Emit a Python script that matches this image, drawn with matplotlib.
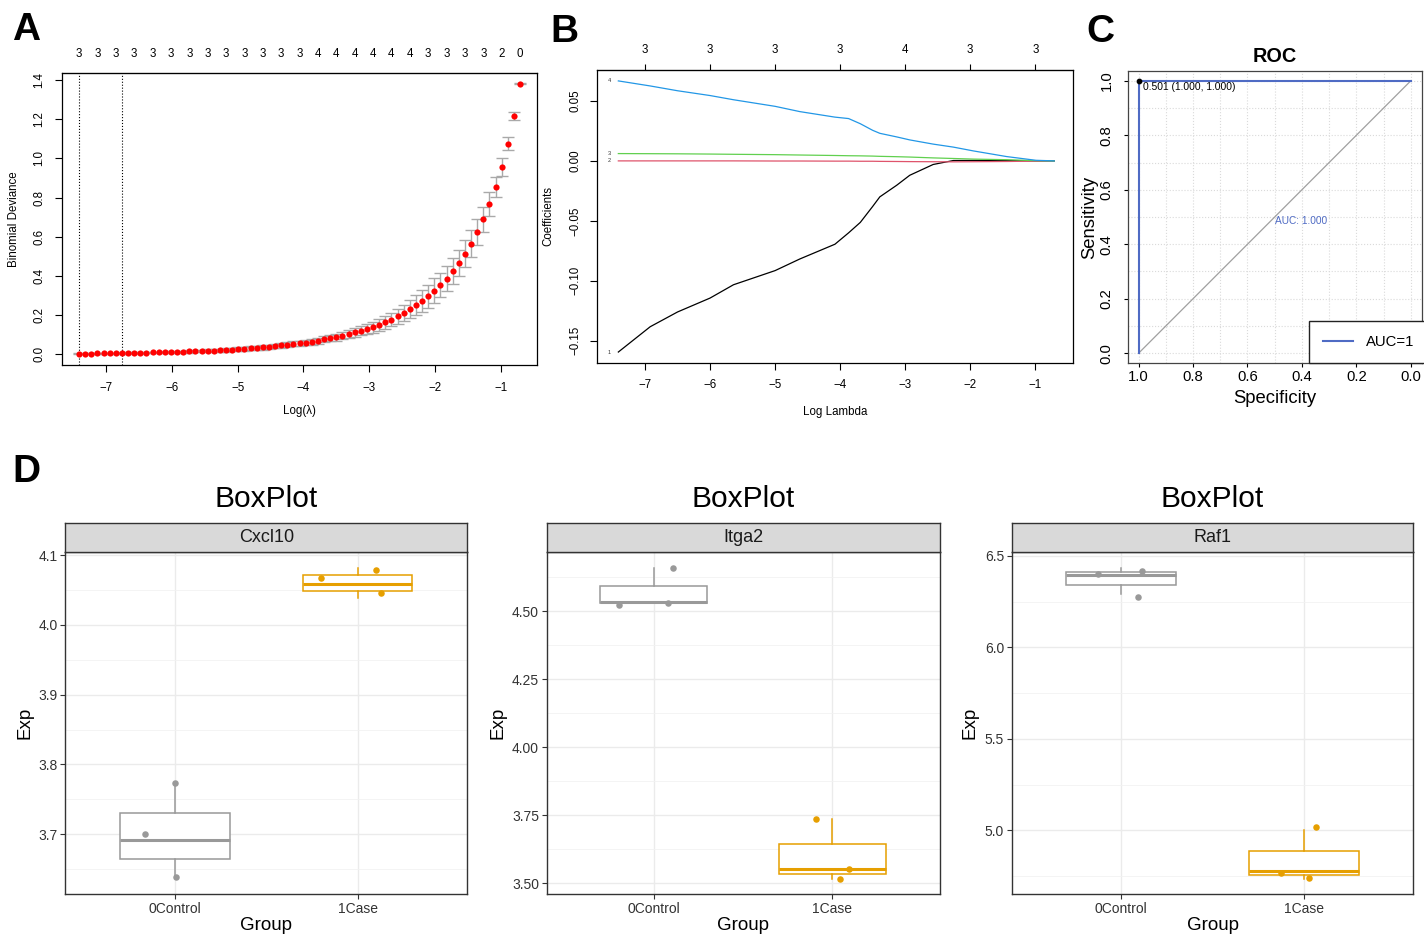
import numpy as np
import matplotlib.pyplot as plt
from matplotlib.lines import Line2D

plt.rcParams['font.family'] = ['Liberation Sans', 'DejaVu Sans']

# ---- A: cross-validated deviance ----
log_lambda = [-7.410, -7.317, -7.224, -7.131, -7.038, -6.945, -6.851, -6.758, -6.665, -6.572,
              -6.479, -6.386, -6.293, -6.200, -6.107, -6.014, -5.921, -5.827, -5.734, -5.641,
              -5.548, -5.455, -5.362, -5.269, -5.176, -5.083, -4.990, -4.897, -4.803, -4.710,
              -4.617, -4.524, -4.431, -4.338, -4.245, -4.152, -4.059, -3.966, -3.873, -3.779,
              -3.686, -3.593, -3.500, -3.407, -3.314, -3.221, -3.128, -3.035, -2.942, -2.849,
              -2.755, -2.662, -2.569, -2.476, -2.383, -2.290, -2.197, -2.104, -2.011, -1.918,
              -1.825, -1.731, -1.638, -1.545, -1.452, -1.359, -1.266, -1.173, -1.080, -0.987,
              -0.894, -0.801, -0.708]
deviance = [0.003, 0.004, 0.004, 0.005, 0.005, 0.006, 0.006, 0.007, 0.007, 0.008,
            0.008, 0.009, 0.010, 0.010, 0.011, 0.012, 0.013, 0.014, 0.015, 0.016,
            0.017, 0.018, 0.019, 0.021, 0.022, 0.024, 0.026, 0.028, 0.030, 0.032,
            0.035, 0.038, 0.042, 0.046, 0.049, 0.053, 0.056, 0.059, 0.064, 0.069,
            0.077, 0.083, 0.088, 0.095, 0.104, 0.112, 0.120, 0.129, 0.139, 0.150,
            0.163, 0.177, 0.194, 0.211, 0.230, 0.250, 0.274, 0.296, 0.325, 0.354,
            0.386, 0.424, 0.466, 0.512, 0.565, 0.623, 0.689, 0.767, 0.854, 0.956,
            1.075, 1.215, 1.380]
deviance_se = [0.002, 0.002, 0.002, 0.002, 0.002, 0.003, 0.003, 0.003, 0.003, 0.003,
               0.004, 0.004, 0.004, 0.004, 0.005, 0.005, 0.005, 0.005, 0.006, 0.006,
               0.006, 0.007, 0.007, 0.007, 0.008, 0.008, 0.009, 0.009, 0.010, 0.010,
               0.011, 0.011, 0.012, 0.012, 0.013, 0.013, 0.014, 0.014, 0.014, 0.015,
               0.015, 0.017, 0.018, 0.019, 0.021, 0.022, 0.024, 0.026, 0.028, 0.031,
               0.033, 0.035, 0.037, 0.041, 0.046, 0.051, 0.056, 0.060, 0.063, 0.063,
               0.064, 0.065, 0.068, 0.069, 0.068, 0.065, 0.063, 0.060, 0.051, 0.044,
               0.035, 0.020, 0.003]
n_nonzero_cv = ['3'] * 13 + ['4'] * 6 + ['3'] * 4 + ['2', '0']
lambda_min = -7.410
lambda_1se = -6.758

# ---- B: coefficient paths ----
path_x = [-7.41, -6.92, -6.5, -6.0, -5.64, -5.0, -4.62, -4.08, -3.87, -3.69,
          -3.5, -3.39, -3.13, -2.93, -2.57, -2.26, -1.95, -1.44, -0.99, -0.708]
coef_1 = [-0.1594, -0.1383, -0.1260, -0.1144, -0.1033, -0.0915, -0.0818, -0.0695, -0.0600, -0.0513,
          -0.0380, -0.0300, -0.0203, -0.0120, -0.0030, 0.0003, 0.0004, 0.0003, 0.0, 0.0]
coef_2 = [0.0, 0.0, 0.0, 0.0, 0.0, -0.0001, -0.0001, -0.0002, -0.0002, -0.0003,
          -0.0003, -0.0004, -0.0005, -0.0006, -0.0007, -0.0008, -0.0007, -0.0005, -0.0002, 0.0]
coef_3 = [0.0061, 0.0060, 0.0059, 0.0057, 0.0055, 0.0052, 0.0049, 0.0045, 0.0043, 0.0042,
          0.0040, 0.0038, 0.0035, 0.0032, 0.0025, 0.0020, 0.0015, 0.0010, 0.0002, 0.0]
coef_4 = [0.0667, 0.0625, 0.0585, 0.0545, 0.0510, 0.0455, 0.0411, 0.0365, 0.0353, 0.0310,
          0.0255, 0.0230, 0.0200, 0.0175, 0.0140, 0.0115, 0.0083, 0.0036, 0.0005, 0.0]
top_df_x = [-7, -6, -5, -4, -3, -2, -1]
top_df = ['3', '3', '3', '3', '4', '3', '3']

# ---- C: ROC ----
roc_spec = [1.0, 1.0, 0.0]
roc_sens = [0.0, 1.0, 1.0]
diag_spec = [1.0, 0.0]
diag_sens = [0.0, 1.0]
best_spec, best_sens = 1.0, 1.0

# ---- D: box plots ----
genes = ['Cxcl10', 'Itga2', 'Raf1']
groups = ['0Control', '1Case']
# (whislo, q1, med, q3, whishi) per group
box_stats = {
    'Cxcl10': [(3.639, 3.664, 3.692, 3.731, 3.774), (4.039, 4.048, 4.059, 4.071, 4.081)],
    'Itga2': [(4.528, 4.528, 4.532, 4.593, 4.657), (3.515, 3.535, 3.554, 3.645, 3.737)],
    'Raf1': [(6.292, 6.341, 6.394, 6.413, 6.433), (4.732, 4.756, 4.778, 4.888, 5.002)],
}
pts_x = {
    'Cxcl10': [[0.835, 1.002, 1.004], [1.801, 2.100, 2.128]],
    'Itga2': [[0.804, 1.106, 1.078], [1.907, 2.095, 2.042]],
    'Raf1': [[0.873, 1.112, 1.094], [2.067, 1.876, 2.030]],
}
pts_y = {
    'Cxcl10': [[3.700, 3.774, 3.639], [4.067, 4.079, 4.045]],
    'Itga2': [[4.521, 4.657, 4.530], [3.736, 3.554, 3.515]],
    'Raf1': [[6.400, 6.420, 6.278], [5.020, 4.765, 4.741]],
}
y_ticks = {
    'Cxcl10': [3.7, 3.8, 3.9, 4.0, 4.1],
    'Itga2': [3.50, 3.75, 4.00, 4.25, 4.50],
    'Raf1': [5.0, 5.5, 6.0, 6.5],
}
y_fmt = {'Cxcl10': '{:.1f}', 'Itga2': '{:.2f}', 'Raf1': '{:.1f}'}
y_lims = {'Cxcl10': (3.614, 4.104), 'Itga2': (3.4596, 4.7156), 'Raf1': (4.650, 6.520)}
group_colors = ['#999999', '#E69F00']

W, H = 1424, 936
fig = plt.figure(figsize=(W / 100, H / 100), dpi=100)


def add_px(x0, y0, x1, y1):
    return fig.add_axes([x0 / W, 1 - y1 / H, (x1 - x0) / W, (y1 - y0) / H])


def ftext(x, y, s, **kw):
    fig.text(x / W, 1 - y / H, s, **kw)


def r_style(ax, size, ylen=5, pad=7):
    ax.tick_params(direction='out', length=ylen, width=0.8, labelsize=size, pad=pad)
    for lab in ax.get_yticklabels():
        lab.set_rotation(90)
        lab.set_va('center')
    for sp in ax.spines.values():
        sp.set_linewidth(0.9)


def place_labels(ax, xl, yl, xy, yx, size, **kw):
    ax.set_xlabel(xl, fontsize=size, **kw)
    ax.set_ylabel(yl, fontsize=size, **kw)
    ax.xaxis.label.set_va('center')
    ax.yaxis.label.set_va('center')
    ax.xaxis.set_label_coords(0.5, xy)
    ax.yaxis.set_label_coords(yx, 0.5)


# ---------------- A ----------------
axA = add_px(62, 72.7, 537.3, 365)
axA.errorbar(log_lambda, deviance, yerr=deviance_se, fmt='none', ecolor='#A9A9A9',
             elinewidth=1, capsize=4, capthick=1, zorder=2)
axA.scatter(log_lambda, deviance, s=20, color='#FF0000', linewidths=0, zorder=3)
axA.axvline(lambda_min, ls=':', color='black', lw=0.8)
axA.axvline(lambda_1se, ls=':', color='black', lw=0.8)
axA.set_xlim(-7.669, -0.445)
axA.set_ylim(-0.0546, 1.437)
axA.set_xticks([-7, -6, -5, -4, -3, -2, -1])
axA.set_yticks([0, 0.2, 0.4, 0.6, 0.8, 1.0, 1.2, 1.4])
axA.set_yticklabels(['0.0', '0.2', '0.4', '0.6', '0.8', '1.0', '1.2', '1.4'])
r_style(axA, 8.3)
place_labels(axA, 'Log(\u03bb)', 'Binomial Deviance', -0.157, -0.101, 8.3)
secA = axA.secondary_xaxis('top')
secA.set_xticks(log_lambda[::3], n_nonzero_cv)
secA.tick_params(length=0, pad=9.5, labelsize=8.3)

# ---------------- B ----------------
axB = add_px(597, 70, 1073, 362.7)
path_colors = ['black', '#DF536B', '#61D04F', '#2297E6']
for c, col in zip([coef_1, coef_2, coef_3, coef_4], path_colors):
    axB.plot(path_x, c, color=col, lw=0.9)
for i, c in enumerate([coef_1, coef_2, coef_3, coef_4]):
    axB.text(-7.55, c[0], str(i + 1), fontsize=4, color='#333333', va='center', ha='center')
axB.set_xlim(-7.738, -0.42)
axB.set_ylim(-0.1683, 0.0758)
axB.set_xticks([-7, -6, -5, -4, -3, -2, -1])
axB.set_yticks([-0.15, -0.10, -0.05, 0.0, 0.05])
axB.set_yticklabels(['\u22120.15', '\u22120.10', '\u22120.05', '0.00', '0.05'])
r_style(axB, 8.3, pad=6.5)
place_labels(axB, 'Log Lambda', 'Coefficients', -0.168, -0.103, 8.3)
secB = axB.secondary_xaxis('top')
secB.set_xticks(top_df_x, top_df)
secB.tick_params(direction='out', length=4, width=0.8, pad=6, labelsize=8.3)

# ---------------- C ----------------
axC = add_px(1127.7, 70.7, 1421.7, 363.3)
axC.set_xlim(1.040, -0.040)
axC.set_ylim(-0.037, 1.037)
axC.set_xticks([1.0, 0.8, 0.6, 0.4, 0.2, 0.0])
axC.set_xticklabels(['1.0', '0.8', '0.6', '0.4', '0.2', '0.0'])
axC.set_yticks([0.0, 0.2, 0.4, 0.6, 0.8, 1.0])
axC.set_yticklabels(['0.0', '0.2', '0.4', '0.6', '0.8', '1.0'])
axC.set_xticks([0.1, 0.3, 0.5, 0.7, 0.9], minor=True)
axC.set_yticks([0.1, 0.3, 0.5, 0.7, 0.9], minor=True)
axC.grid(which='both', ls=':', color='#DADADA', lw=0.8)
axC.tick_params(which='minor', length=0)
axC.plot(diag_spec, diag_sens, color='#A0A0A0', lw=0.9)
axC.plot(roc_spec, roc_sens, color='#4F6BC4', lw=1.5, label='AUC=1')
axC.scatter([best_spec], [best_sens], s=10, color='black', zorder=4)
axC.text(0.983, 0.978, '0.501 (1.000, 1.000)', fontsize=7.4, va='center', ha='left')
axC.text(0.499, 0.485, 'AUC: 1.000', fontsize=7.3, color='#4F6BC4', va='center', ha='left')
r_style(axC, 10.7, ylen=3, pad=7)
axC.tick_params(axis='x', pad=2)
for sp in axC.spines.values():
    sp.set_color('#444444')
place_labels(axC, 'Specificity', 'Sensitivity', -0.119, -0.128, 13.3)
axC.set_title('ROC', fontsize=14.3, fontweight='bold', y=1.047, va='center', pad=0)
leg = axC.legend(handles=[Line2D([], [], color='#4F6BC4', lw=1.5)], labels=['AUC=1'],
                 loc='lower left', bbox_to_anchor=((1309 - 1127.7) / 294, 0.0),
                 borderaxespad=0, fontsize=10.7, handlelength=2.0, handletextpad=0.9,
                 borderpad=0.95, fancybox=False, framealpha=1, edgecolor='#222222')
leg.get_frame().set_linewidth(1.0)

# ---------------- D ----------------
d_edges = [(65.3, 467.3, -0.100), (546.7, 939.5, -0.124), (1011.7, 1413.3, -0.104)]
for gene, (x0, x1, ylab_x) in zip(genes, d_edges):
    ax = add_px(x0, 552.3, x1, 894.3)
    strip = add_px(x0, 523.3, x1, 552.3)
    strip.set_facecolor('#D9D9D9')
    strip.set_xticks([])
    strip.set_yticks([])
    for sp in strip.spines.values():
        sp.set_color('#333333')
        sp.set_linewidth(1.0)
    strip.text(0.5, 0.5, gene, fontsize=13, color='#1A1A1A', ha='center', va='center',
               transform=strip.transAxes)
    ftext((x0 + x1) / 2, 499, 'BoxPlot', fontsize=21.5, ha='center', va='center')

    stats = []
    for (lo, q1, med, q3, hi) in box_stats[gene]:
        stats.append({'whislo': lo, 'q1': q1, 'med': med, 'q3': q3, 'whishi': hi, 'fliers': []})
    bp = ax.bxp(stats, positions=[1, 2], widths=0.6, showcaps=False, showfliers=False,
                patch_artist=True)
    for i, col in enumerate(group_colors):
        bp['boxes'][i].set(facecolor='white', edgecolor=col, linewidth=1.1)
        bp['medians'][i].set(color=col, linewidth=2.2)
        bp['whiskers'][2 * i].set(color=col, linewidth=1.1)
        bp['whiskers'][2 * i + 1].set(color=col, linewidth=1.1)
        ax.scatter(pts_x[gene][i], pts_y[gene][i], s=22, color=col, linewidths=0, zorder=4)

    ticks = y_ticks[gene]
    ax.set_xlim(0.4, 2.6)
    ax.set_ylim(*y_lims[gene])
    ax.set_xticks([1, 2])
    ax.set_xticklabels(groups)
    ax.set_yticks(ticks)
    ax.set_yticklabels([y_fmt[gene].format(t) for t in ticks])
    minors = [(a + b) / 2 for a, b in zip(ticks[:-1], ticks[1:])]
    lo_lim, hi_lim = y_lims[gene]
    step = ticks[1] - ticks[0]
    if ticks[0] - step / 2 > lo_lim:
        minors = [ticks[0] - step / 2] + minors
    if ticks[-1] + step / 2 < hi_lim:
        minors = minors + [ticks[-1] + step / 2]
    ax.set_yticks(minors, minor=True)
    ax.grid(which='major', color='#EBEBEB', lw=1.0)
    ax.grid(which='minor', axis='y', color='#F2F2F2', lw=0.6)
    ax.set_axisbelow(True)
    ax.tick_params(which='major', length=3.5, width=0.8, color='#333333',
                   labelcolor='#333333', labelsize=10, pad=2)
    ax.tick_params(which='minor', length=0)
    for sp in ax.spines.values():
        sp.set_color('#333333')
        sp.set_linewidth(1.0)
    place_labels(ax, 'Group', 'Exp', -0.090, ylab_x, 13.5)

# panel letters
for letter, x, y in [('A', 26, 30), ('B', 564, 32), ('C', 1100, 32), ('D', 26, 472)]:
    ftext(x, y, letter, fontsize=28, fontweight='bold', ha='center', va='center')

fig.savefig('out.png', dpi=100)
